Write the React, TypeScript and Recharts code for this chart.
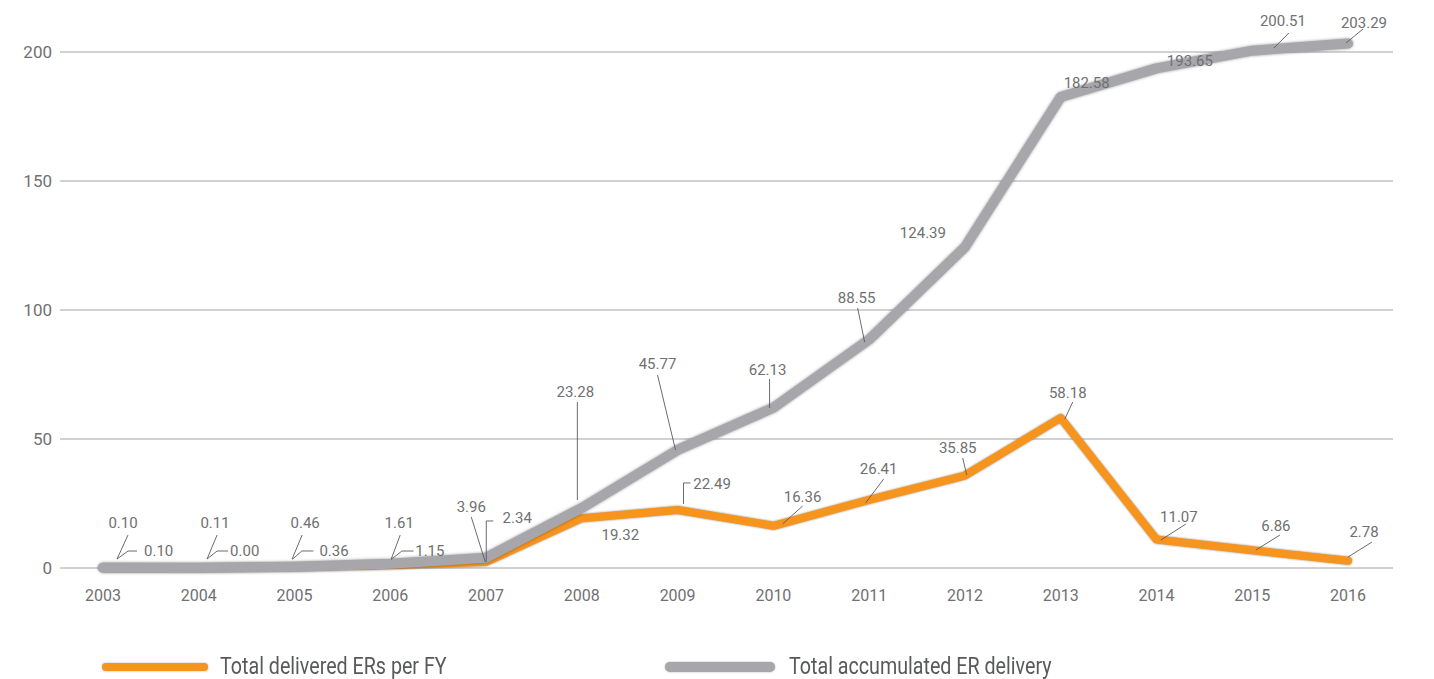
import React from 'react';
import { LineChart, Line, XAxis, YAxis, CartesianGrid, Legend } from 'recharts';

const years = ['2003', '2004', '2005', '2006', '2007', '2008', '2009', '2010', '2011', '2012', '2013', '2014', '2015', '2016'];
const deliveredPerFY = [0.10, 0.00, 0.36, 1.15, 2.34, 19.32, 22.49, 16.36, 26.41, 35.85, 58.18, 11.07, 6.86, 2.78];
const accumulated = [0.10, 0.11, 0.46, 1.61, 3.96, 23.28, 45.77, 62.13, 88.55, 124.39, 182.58, 193.65, 200.51, 203.29];
const yTicks = [0, 50, 100, 150, 200];
const seriesNames = ['Total delivered ERs per FY', 'Total accumulated ER delivery'];

const data = years.map((y, i) => ({ year: y, fy: deliveredPerFY[i], acc: accumulated[i] }));

type LP = { tx: number; ty: number; a?: 'start' | 'middle' | 'end'; l?: number[][] };

// label placement (offsets from each point, px)
const accLabelPos: LP[] = [
  { tx: 20, ty: -44.7, l: [[25, -32.7], [14, -8.7]] },
  { tx: 16.3, ty: -44.7, l: [[18.3, -32.7], [8.3, -8.7]] },
  { tx: 10.6, ty: -43.8, l: [[7.6, -31.8], [-2.4, -7.8]] },
  { tx: 8.9, ty: -40.8, l: [[9.9, -28.8], [0.9, -4.8]] },
  { tx: -14.8, ty: -50.8, l: [[-14.8, -40.8], [-0.8, 4.2]] },
  { tx: -6.5, ty: -115.9, l: [[-4.5, -105.9], [-4.5, -7.9]] },
  { tx: -20.1, ty: -85.9, l: [[-20.1, -74.9], [-2.1, 0]] },
  { tx: -5.8, ty: -37.7, l: [[-3.8, -28.7], [-3.8, 0.3]] },
  { tx: -12.5, ty: -41.5, l: [[-11.5, -31.5], [-4.5, 2.5]] },
  { tx: -42, ty: -14 },
  { tx: 26, ty: -14 },
  { tx: 33.4, ty: -7.4 },
  { tx: 30.7, ty: -29.7, l: [[36.7, -17.7], [21.7, -2.7]] },
  { tx: 16, ty: -20.5, l: [[15, -14.5], [-2, -0.5]] },
];

const fyLabelPos: LP[] = [
  { tx: 41, ty: -16.7, a: 'start', l: [[14, -8.7], [25, -16.7], [34, -16.7]] },
  { tx: 31.3, ty: -17, a: 'start', l: [[8.3, -9], [18.3, -17], [29.3, -17]] },
  { tx: 24.9, ty: -16.1, a: 'start', l: [[-2.1, -7.8], [7.3, -16.1], [18.9, -16.1]] },
  { tx: 24.9, ty: -14, a: 'start', l: [[0.9, -5.7], [11.6, -14], [23.2, -14]] },
  { tx: 16.5, ty: -44, a: 'start', l: [[0.2, 0], [0.2, -41], [7.2, -41]] },
  { tx: 38.5, ty: 16.8 },
  { tx: 15.6, ty: -26, a: 'start', l: [[5.9, -6], [5.9, -27], [12.9, -27]] },
  { tx: 29.2, ty: -28.8, l: [[29.2, -19.8], [9.2, -1.8]] },
  { tx: 9.5, ty: -30.9, l: [[14.5, -20.9], [-3.5, 3.1]] },
  { tx: -7.2, ty: -27.5, l: [[-2.2, -17.5], [1.8, -0.5]] },
  { tx: 7.1, ty: -24.9, l: [[12.1, -15.9], [4.1, 1.1]] },
  { tx: 22.4, ty: -22.4, l: [[29.4, -15.4], [4.4, 0.6]] },
  { tx: 23.7, ty: -24.3, l: [[27.7, -15.3], [3.7, -0.3]] },
  { tx: 16, ty: -28.8, l: [[24, -18.8], [0, -3.8]] },
];

const FONT = 'Roboto, "Liberation Sans", Arial, sans-serif';
const LEGEND_FONT = 'Roboto, "Liberation Sans", sans-serif';
const TXT = '#707072';

const makeLabel = (pos: LP[]) => (props: any) => {
  const { x, y, index, value } = props;
  const p = pos[index];
  if (!p || x == null || y == null) return null;
  return (
    <g key={`lbl-${index}`}>
      {p.l && (
        <polyline
          points={p.l.map(([dx, dy]) => `${x + dx},${y + dy}`).join(' ')}
          fill="none"
          stroke="#5a5a5c"
          strokeWidth={0.9}
        />
      )}
      <text
        x={x + p.tx}
        y={y + p.ty}
        textAnchor={p.a || 'middle'}
        dominantBaseline="central"
        fontSize={15}
        fontFamily={FONT}
        fill={TXT}
      >
        {Number(value).toFixed(2)}
      </text>
    </g>
  );
};

const legendText: React.CSSProperties = {
  position: 'absolute',
  top: 0,
  lineHeight: '24px',
  fontSize: 23,
  fontFamily: LEGEND_FONT,
  color: '#58595b',
  whiteSpace: 'nowrap',
  transform: 'scaleX(0.855)',
  transformOrigin: '0 50%',
};

const renderLegend = () => (
  <div style={{ position: 'relative', height: 24, width: 1418 }}>
    <div style={{ position: 'absolute', left: 94, top: 8, width: 106, height: 8, borderRadius: 4, background: '#f7941d', boxShadow: '0 0 2px rgba(0,0,0,0.35)' }} />
    <span style={{ ...legendText, left: 212 }}>{seriesNames[0]}</span>
    <div style={{ position: 'absolute', left: 657, top: 7, width: 110, height: 10, borderRadius: 5, background: '#a7a6ab', boxShadow: '0 0 2px rgba(0,0,0,0.35)' }} />
    <span style={{ ...legendText, left: 781 }}>{seriesNames[1]}</span>
  </div>
);

export default function App() {
  return (
    <div style={{ width: 1418, height: 671, background: '#fff' }}>
      <LineChart width={1418} height={671} data={data} margin={{ top: 18.2, right: 0, bottom: 0, left: 0 }}>
        <CartesianGrid vertical={false} stroke="#a3a3a3" strokeWidth={1} yAxisId="left" syncWithTicks />
        <XAxis
          dataKey="year"
          height={87}
          axisLine={false}
          tickLine={false}
          tickMargin={16}
          padding={{ left: 43, right: 45 }}
          tick={{ fontSize: 16, fill: TXT, fontFamily: FONT }}
          interval={0}
        />
        <YAxis
          yAxisId="left"
          width={52}
          domain={[0, 210]}
          ticks={yTicks}
          axisLine={false}
          tickLine={false}
          tick={{ fontSize: 17, fill: TXT, fontFamily: FONT }}
        />
        <YAxis
          yAxisId="right"
          orientation="right"
          width={33}
          domain={[0, 210]}
          ticks={yTicks}
          axisLine={false}
          tickLine={false}
          tick={{ fontSize: 17, fill: TXT, fontFamily: FONT, textAnchor: 'start' }}
        />
        <Legend verticalAlign="bottom" content={renderLegend} />
        <Line
          yAxisId="left"
          type="linear"
          dataKey="fy"
          name={seriesNames[0]}
          stroke="#f7941d"
          strokeWidth={8}
          strokeLinecap="round"
          strokeLinejoin="round"
          dot={false}
          activeDot={false}
          isAnimationActive={false}
          style={{ filter: 'drop-shadow(0 0 1.2px rgba(60,40,0,0.55))' }}
          label={makeLabel(fyLabelPos)}
        />
        <Line
          yAxisId="left"
          type="linear"
          dataKey="acc"
          name={seriesNames[1]}
          stroke="#a7a6ab"
          strokeWidth={10}
          strokeLinecap="round"
          strokeLinejoin="round"
          dot={false}
          activeDot={false}
          isAnimationActive={false}
          style={{ filter: 'drop-shadow(0 0 1.5px rgba(0,0,0,0.4))' }}
          label={makeLabel(accLabelPos)}
        />
      </LineChart>
    </div>
  );
}
